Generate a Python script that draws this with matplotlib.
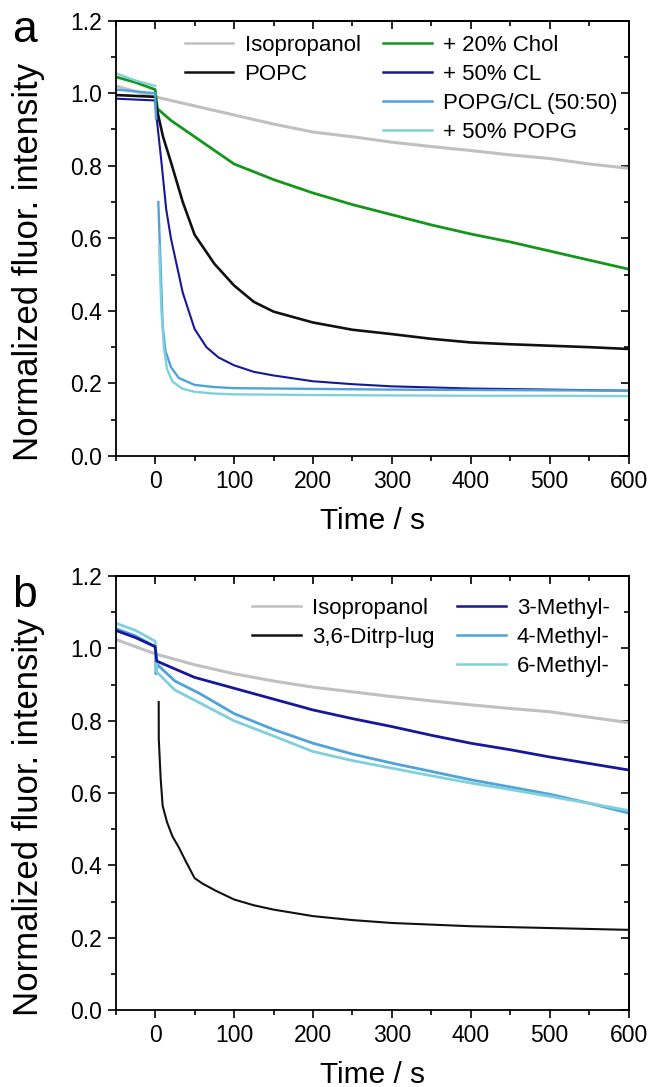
import numpy as np
import matplotlib.pyplot as plt
from matplotlib.lines import Line2D
from matplotlib.ticker import MultipleLocator

plt.rcParams['font.family'] = ['Liberation Sans', 'DejaVu Sans']

nan = np.nan

# ---- panel a : membranes ----
t_iso_a = [-50, 0, 50, 100, 150, 200, 250, 300, 350, 400, 450, 500, 550, 600]
v_iso_a = [1.02, 0.99, 0.965, 0.94, 0.915, 0.893, 0.88, 0.865, 0.853, 0.842, 0.83, 0.82, 0.805, 0.793]

t_popc = [-50, 0, 3, 10, 20, 35, 50, 75, 100, 125, 150, 200, 250, 300, 350, 400, 450, 500, 550, 600]
v_popc = [0.995, 0.99, 0.948, 0.88, 0.81, 0.70, 0.61, 0.53, 0.47, 0.425, 0.398, 0.368, 0.348, 0.336, 0.323, 0.313, 0.308, 0.304, 0.30, 0.295]

t_chol = [-50, -25, 0, 3, 20, 50, 100, 150, 200, 250, 300, 350, 400, 450, 500, 550, 600]
v_chol = [1.045, 1.03, 1.01, 0.957, 0.925, 0.88, 0.805, 0.762, 0.725, 0.693, 0.665, 0.637, 0.612, 0.59, 0.565, 0.54, 0.515]

t_cl = [-50, 0, 1.5, 8, 14, 20, 27, 35, 50, 65, 80, 100, 125, 150, 200, 250, 300, 400, 500, 600]
v_cl = [0.985, 0.98, 0.94, 0.81, 0.68, 0.60, 0.53, 0.45, 0.35, 0.30, 0.272, 0.25, 0.232, 0.222, 0.206, 0.198, 0.192, 0.186, 0.183, 0.18]

t_pgcl = [-50, -25, 0, 1, 2, 4, 7, 9.5, 13, 20, 30, 50, 75, 100, 200, 300, 400, 500, 600]
v_pgcl = [1.01, 1.005, 1.0, 0.93, nan, 0.70, 0.52, 0.36, 0.29, 0.245, 0.215, 0.196, 0.19, 0.187, 0.185, 0.183, 0.182, 0.181, 0.18]

t_pg = [-50, -25, 0, 2, 5, 8, 11, 15, 22, 35, 50, 75, 100, 200, 300, 400, 500, 600]
v_pg = [1.055, 1.035, 1.02, nan, 0.58, 0.40, 0.30, 0.24, 0.205, 0.185, 0.177, 0.172, 0.17, 0.168, 0.167, 0.166, 0.166, 0.165]

# ---- panel b : peptides ----
t_iso_b = [-50, 0, 50, 100, 150, 200, 250, 300, 350, 400, 450, 500, 550, 600]
v_iso_b = [1.025, 0.985, 0.955, 0.93, 0.91, 0.893, 0.88, 0.867, 0.855, 0.844, 0.834, 0.825, 0.81, 0.795]

t_ditrp = [4.5, 4.6, 7, 9.5, 15, 22, 30, 38, 50, 60, 77, 100, 125, 150, 200, 250, 300, 400, 500, 600]
v_ditrp = [0.852, 0.75, 0.64, 0.565, 0.52, 0.48, 0.45, 0.415, 0.365, 0.35, 0.33, 0.306, 0.29, 0.278, 0.26, 0.249, 0.241, 0.232, 0.227, 0.222]

t_m3 = [-50, -25, 0, 2, 50, 100, 150, 200, 250, 300, 350, 400, 450, 500, 550, 600]
v_m3 = [1.05, 1.03, 1.005, 0.965, 0.92, 0.89, 0.86, 0.83, 0.806, 0.784, 0.76, 0.738, 0.72, 0.70, 0.682, 0.664]

t_m4 = [-50, -25, 0, 1, 3, 25, 56, 100, 150, 200, 250, 300, 350, 400, 450, 500, 550, 600]
v_m4 = [1.055, 1.035, 1.005, 0.93, 0.955, 0.91, 0.876, 0.82, 0.776, 0.738, 0.708, 0.683, 0.66, 0.637, 0.617, 0.597, 0.572, 0.545]

t_m6 = [-50, -25, 0, 2, 25, 56, 100, 150, 200, 250, 300, 350, 400, 450, 500, 550, 600]
v_m6 = [1.07, 1.05, 1.02, 0.935, 0.885, 0.85, 0.80, 0.758, 0.715, 0.69, 0.669, 0.648, 0.628, 0.61, 0.591, 0.572, 0.552]

c_grey = '#c0c0c0'
c_black = '#111111'
c_green = '#13961a'
c_navy = '#17179a'
c_blue = '#4fa3da'
c_cyan = '#80d0dc'

fig = plt.figure(figsize=(6.5, 10.87), dpi=100)
ax_a = fig.add_axes([0.178, 0.5805, 0.789, 0.4005])
ax_b = fig.add_axes([0.178, 0.0707, 0.789, 0.3993])

ax_a.plot(t_iso_a, v_iso_a, color=c_grey, lw=2.2)
ax_a.plot(t_chol, v_chol, color=c_green, lw=2.0)
ax_a.plot(t_popc, v_popc, color=c_black, lw=1.9)
ax_a.plot(t_cl, v_cl, color=c_navy, lw=1.5)
ax_a.plot(t_pgcl, v_pgcl, color=c_blue, lw=1.7)
ax_a.plot(t_pg, v_pg, color=c_cyan, lw=1.7)

ax_b.plot(t_iso_b, v_iso_b, color=c_grey, lw=2.2)
ax_b.plot(t_m4, v_m4, color=c_blue, lw=2.0)
ax_b.plot(t_m6, v_m6, color=c_cyan, lw=2.0)
ax_b.plot(t_m3, v_m3, color=c_navy, lw=2.0)
ax_b.plot(t_ditrp, v_ditrp, color=c_black, lw=1.5)


def h(c):
    return Line2D([], [], color=c, lw=1.8)


blank = Line2D([], [], color='none')
leg_kw = dict(ncol=2, loc='upper right', frameon=False, fontsize=16,
              handlelength=2.2, handletextpad=0.5, columnspacing=1.0, labelspacing=0.36,
              borderpad=0, borderaxespad=0)

ax_a.legend([h(c_grey), h(c_black), blank, blank, h(c_green), h(c_navy), h(c_blue), h(c_cyan)],
            ['Isopropanol', 'POPC', '', '', '+ 20% Chol', '+ 50% CL', 'POPG/CL (50:50)', '+ 50% POPG'],
            bbox_to_anchor=(0.978, 0.968), **leg_kw)
ax_b.legend([h(c_grey), h(c_black), blank, h(c_navy), h(c_blue), h(c_cyan)],
            ['Isopropanol', '3,6-Ditrp-lug', '', '3-Methyl-', '4-Methyl-', '6-Methyl-'],
            bbox_to_anchor=(0.963, 0.95), **leg_kw)

for ax in [ax_a, ax_b]:
    ax.set_xlim(-50, 600)
    ax.set_ylim(0, 1.2)
    ax.xaxis.set_major_locator(MultipleLocator(100))
    ax.xaxis.set_minor_locator(MultipleLocator(50))
    ax.yaxis.set_major_locator(MultipleLocator(0.2))
    ax.yaxis.set_minor_locator(MultipleLocator(0.1))
    ax.yaxis.set_major_formatter(plt.FormatStrFormatter('%.1f'))
    ax.tick_params(which='major', direction='out', length=6, width=1.2, labelsize=16.5, pad=4)
    ax.tick_params(which='minor', direction='out', length=3.5, width=1.2)
    for s in ax.spines.values():
        s.set_linewidth(1.3)
    top = ax.secondary_xaxis('top')
    top.xaxis.set_major_locator(MultipleLocator(100))
    top.xaxis.set_minor_locator(MultipleLocator(50))
    top.tick_params(which='major', direction='in', length=6, width=1.2, labeltop=False)
    top.tick_params(which='minor', direction='in', length=3.5, width=1.2)
    top.spines['top'].set_linewidth(1.3)
    right = ax.secondary_yaxis('right')
    right.yaxis.set_major_locator(MultipleLocator(0.2))
    right.yaxis.set_minor_locator(MultipleLocator(0.1))
    right.tick_params(which='major', direction='in', length=6, width=1.2, labelright=False)
    right.tick_params(which='minor', direction='in', length=3.5, width=1.2)
    right.spines['right'].set_linewidth(1.3)
    ax.set_xlabel('Time / s', fontsize=21.5, labelpad=10)
    ax.set_ylabel('Normalized fluor. intensity', fontsize=25)
    ax.yaxis.set_label_coords(-0.137, 0.445)

fig.text(0.018, 0.961, 'a', fontsize=32)
fig.text(0.018, 0.4416, 'b', fontsize=32)

fig.savefig('out.png', dpi=100)
